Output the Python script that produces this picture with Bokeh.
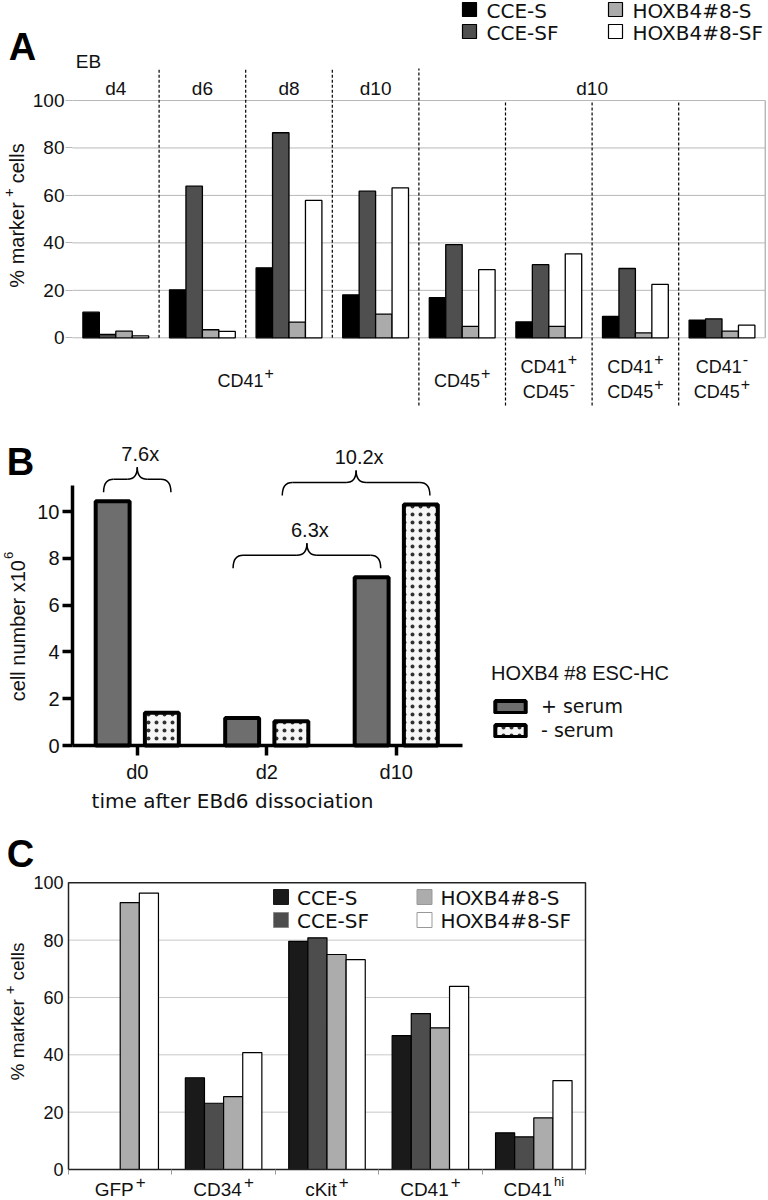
import numpy as np
from math import pi
from bokeh.plotting import figure
from bokeh.models import Range1d, FixedTicker, Label, Legend, LegendItem
from bokeh.layouts import column
from bokeh.embed import file_html
from bokeh.resources import INLINE

# ---------------- data ----------------
series = ["CCE-S", "CCE-SF", "HOXB4#8-S", "HOXB4#8-SF"]

# Panel A
a_headers = ["d4", "d6", "d8", "d10"]
a_header_d10 = "d10"
a_eb = "EB"
a_sub_single = [("CD41", "+"), ("CD45", "+")]
a_sub_top = [("CD41", "+"), ("CD41", "+"), ("CD41", "-")]
a_sub_bottom = [("CD45", "-"), ("CD45", "+"), ("CD45", "+")]
a_cce_s = [10.8, 20.2, 29.5, 18.1, 16.9, 6.7, 9.0, 7.4]
a_cce_sf = [1.4, 63.9, 86.4, 61.8, 39.3, 30.8, 29.2, 8.0]
a_hox_s = [2.8, 3.4, 6.6, 10.0, 4.8, 4.8, 2.1, 2.8]
a_hox_sf = [0.8, 2.7, 57.9, 63.2, 28.7, 35.4, 22.5, 5.3]
a_ticks = [0, 20, 40, 60, 80, 100]

# Panel B
b_days = ["d0", "d2", "d10"]
b_series = ["+ serum", "- serum"]
b_title = "HOXB4 #8 ESC-HC"
b_plus = [10.44, 1.17, 7.19]
b_minus = [1.40, 1.04, 10.30]
b_ticks = [0, 2, 4, 6, 8, 10]
b_folds = ["7.6x", "6.3x", "10.2x"]
b_fold_pairs = [((0, 0), (0, 1)), ((1, 0), (2, 0)), ((1, 1), (2, 1))]

# Panel C
c_markers = [("GFP", "+"), ("CD34", "+"), ("cKit", "+"), ("CD41", "+"), ("CD41", "hi")]
c_cce_s = [0, 32.0, 79.6, 46.7, 12.8]
c_cce_sf = [0, 23.1, 80.8, 54.4, 11.4]
c_hox_s = [93.1, 25.4, 75.0, 49.4, 18.0]
c_hox_sf = [96.4, 40.8, 73.2, 63.9, 31.0]
c_ticks = [0, 20, 40, 60, 80, 100]

# ---------------- helpers ----------------
FONT = "Liberation Sans"
WIDE = "DejaVu Sans"
INK = "#111111"
W = {' ': 278, '+': 584, '-': 333, '.': 278, '#': 556, '%': 889, 'A': 667, 'B': 667, 'C': 722,
     'D': 722, 'E': 667, 'F': 611, 'G': 778, 'H': 722, 'K': 667, 'O': 778, 'P': 667, 'S': 667,
     'X': 667, 'a': 556, 'b': 556, 'c': 500, 'd': 556, 'e': 556, 'f': 278, 'h': 556, 'i': 222,
     'k': 500, 'l': 222, 'm': 833, 'n': 556, 'o': 556, 'r': 333, 's': 500, 't': 278, 'u': 556,
     'x': 500}


def tw(s, size):
    return sum(W.get(ch, 556) for ch in s) * size / 1000.0


class Map:
    """linear page-pixel <-> data mapping of one panel (page y grows downwards)"""
    def __init__(self, x0, sx, y0, sy):
        self.x0, self.sx, self.y0, self.sy = x0, sx, y0, sy

    def px(self, x):
        return self.x0 + x * self.sx

    def py(self, y):
        return self.y0 - y * self.sy

    def ix(self, px):
        return (px - self.x0) / self.sx

    def iy(self, py):
        return (self.y0 - py) / self.sy


def lab(p, m, px, py, text, size, font=FONT, align="center", baseline="middle",
        angle=0.0, style="normal", color=INK):
    p.add_layout(Label(x=m.ix(px), y=m.iy(py), text=text, text_font=font,
                       text_font_size=f"{size}px", text_font_style=style, text_color=color,
                       text_align=align, text_baseline=baseline, angle=angle))


def sup_lab(p, m, cx, cy, base, sup, size=18, ssize=16, rise=8, gap=1):
    wb, ws = tw(base, size), tw(sup, ssize)
    left = cx - (wb + gap + ws) / 2
    lab(p, m, left, cy, base, size, align="left")
    lab(p, m, left + wb + gap, cy - rise, sup, ssize, align="left")


def vlab(p, m, cx, cy, parts, size=20, ssize=15, rise=8, gap=5):
    widths = [tw(t, ssize if s else size) for t, s in parts]
    total = sum(widths) + gap * (len(parts) - 1)
    y = cy + total / 2
    for (t, s), w in zip(parts, widths):
        lab(p, m, cx - (rise if s else 0), y, t, ssize if s else size, align="left", angle=pi / 2)
        y -= w + gap


def make_fig(m, top, bottom):
    p = figure(width=768, height=bottom - top, output_backend="svg", toolbar_location=None,
               x_range=Range1d(m.ix(0), m.ix(768)), y_range=Range1d(m.iy(bottom), m.iy(top)),
               min_border_left=0, min_border_right=0, min_border_top=0, min_border_bottom=0,
               outline_line_color=None, background_fill_color="white", border_fill_color="white")
    p.grid.visible = False
    return p


def style_axis(ax, size, color=INK):
    ax.major_label_text_font = FONT
    ax.major_label_text_font_size = f"{size}px"
    ax.major_label_text_color = color
    ax.minor_tick_line_color = None


# ================= Panel A =================
mA = Map(72, 86.6, 337.3, 2.373)
pA = make_fig(mA, 0, 406)
ng = len(a_cce_s)

pA.segment(x0=[0] * len(a_ticks), y0=a_ticks, x1=[ng] * len(a_ticks), y1=a_ticks,
           line_color="#b8b8b8", line_width=1)
pA.segment(x0=[ng], y0=[0], x1=[ng], y1=[max(a_ticks)], line_color="#b8b8b8", line_width=1.5)

ya = pA.yaxis[0]
ya.fixed_location = 0
ya.ticker = FixedTicker(ticks=a_ticks)
ya.axis_line_color = None
ya.major_tick_line_color = "#b8b8b8"
ya.major_tick_out = 7
ya.major_tick_in = 0
ya.major_label_standoff = 1
style_axis(ya, 19)
pA.xaxis.visible = False

colsA = ["#000000", "#4f4f4f", "#ababab", "#ffffff"]
bw = 0.19
offs = [-1.5, -0.5, 0.5, 1.5]
for k, (vals, col) in enumerate(zip([a_cce_s, a_cce_sf, a_hox_s, a_hox_sf], colsA)):
    xs = [i + 0.5 + offs[k] * bw for i in range(ng)]
    pA.vbar(x=xs, top=vals, bottom=0, width=bw, fill_color=col, line_color="#000000", line_width=1.3)

top_sep = mA.iy(68)
bot_sep = mA.iy(405)
pA.segment(x0=[1, 2, 3], y0=[0, 0, 0], x1=[1, 2, 3], y1=[top_sep] * 3,
           line_color="#000000", line_width=1.2, line_dash="3 2")
pA.segment(x0=[4], y0=[bot_sep], x1=[4], y1=[top_sep],
           line_color="#000000", line_width=1.2, line_dash="3 2")
pA.segment(x0=[5, 6, 7], y0=[bot_sep] * 3, x1=[5, 6, 7], y1=[max(a_ticks)] * 3,
           line_color="#000000", line_width=1.2, line_dash="3 2")

for i, h in enumerate(a_headers):
    lab(pA, mA, mA.px(i + 0.5), 88, h, 19)
lab(pA, mA, mA.px(6.0), 88, a_header_d10, 19)
lab(pA, mA, 88, 61, a_eb, 19)
lab(pA, mA, 22, 46, "A", 38, style="bold", color="#000000")

sup_lab(pA, mA, mA.px(2.0), 380, *a_sub_single[0])
sup_lab(pA, mA, mA.px(4.5), 380, *a_sub_single[1])
for j in range(3):
    sup_lab(pA, mA, mA.px(5.5 + j), 366, *a_sub_top[j])
    sup_lab(pA, mA, mA.px(5.5 + j), 391, *a_sub_bottom[j])

vlab(pA, mA, 16, 215, [("% marker", False), ("+", True), ("cells", False)])

leg_pos = [(469, 9), (469, 31), (615, 9), (615, 31)]
for (sx, sy), col, name in zip(leg_pos, colsA, series):
    pA.scatter(x=[mA.ix(sx)], y=[mA.iy(sy)], marker="square", size=14,
               fill_color=col, line_color="#000000", line_width=1.2)
    lab(pA, mA, sx + 17, sy + 1, name, 20, font=WIDE, align="left")

# ================= Panel B =================
mB = Map(72 + 0.5 * 129.5, 129.5, 745, 23.4)
pB = make_fig(mB, 406, 815)

xb = pB.xaxis[0]
xb.fixed_location = 0
xb.ticker = FixedTicker(ticks=list(range(len(b_days))))
xb.major_label_overrides = {i: d for i, d in enumerate(b_days)}
xb.bounds = (-0.5, mB.ix(462))
yb = pB.yaxis[0]
yb.fixed_location = -0.5
yb.ticker = FixedTicker(ticks=b_ticks)
yb.bounds = (0, mB.iy(485))
for ax in (xb, yb):
    ax.axis_line_width = 3.5
    ax.axis_line_color = "#000000"
    ax.major_tick_line_width = 3.5
    ax.major_tick_line_color = "#000000"
    ax.major_tick_out = 10
    ax.major_tick_in = 0
    style_axis(ax, 20)
xb.major_label_standoff = 5
yb.major_label_standoff = 3

bo = 0.19
bwb = 0.262
xs_p = [i - bo for i in range(len(b_days))]
xs_m = [i + bo for i in range(len(b_days))]
r_plus = pB.vbar(x=xs_p, top=b_plus, bottom=0, width=bwb, fill_color="#6e6e6e",
                 line_color="#000000", line_width=4)
r_minus = pB.vbar(x=xs_m, top=b_minus, bottom=0, width=bwb, fill_color="#f6f6f6",
                  line_color="#000000", line_width=4, hatch_pattern="dot",
                  hatch_color="#333333", hatch_scale=8, hatch_weight=0.8)

bx = [xs_p, xs_m]
bv = [b_plus, b_minus]
dy = lambda v: v / mB.sy
dx = lambda v: v / mB.sx
for txt, ((d1, s1), (d2, s2)) in zip(b_folds, b_fold_pairs):
    xl = bx[s1][d1] - 0.07
    xr = bx[s2][d2] + 0.07
    inside = [bv[s][d] for s in range(2) for d in range(len(b_days)) if xl <= bx[s][d] <= xr]
    yh = max(inside) + dy(22)
    xc = (xl + xr) / 2
    r = dx(10)
    pB.quadratic(x0=[xl, xc - r, xc, xr - r], y0=[yh - dy(13), yh, yh + dy(12), yh],
                 x1=[xl + r, xc, xc + r, xr], y1=[yh, yh + dy(12), yh, yh - dy(13)],
                 cx=[xl, xc, xc, xr], cy=[yh, yh, yh, yh],
                 line_color="#000000", line_width=1.5)
    pB.segment(x0=[xl + r, xc + r], y0=[yh, yh], x1=[xc - r, xr - r], y1=[yh, yh],
               line_color="#000000", line_width=1.5)
    lab(pB, mB, mB.px(xc) + 3, mB.py(yh) - 25, txt, 20)

legB = Legend(items=[LegendItem(label=b_series[0], renderers=[r_plus]),
                     LegendItem(label=b_series[1], renderers=[r_minus])],
              title=b_title, location=(491, 74), orientation="vertical",
              glyph_width=38, glyph_height=15, label_standoff=12, spacing=2,
              padding=0, margin=0, border_line_color=None, background_fill_alpha=0,
              label_text_font=WIDE, label_text_font_size="19px", label_text_color=INK,
              title_text_font=FONT, title_text_font_size="20px", title_text_font_style="normal",
              title_text_color=INK, title_standoff=10)
pB.add_layout(legB)

lab(pB, mB, 20, 461, "B", 38, style="bold", color="#000000")
lab(pB, mB, 232, 800, "time after EBd6 dissociation", 20, font=WIDE)
vlab(pB, mB, 17, 626, [("cell number x10", False), ("6", True)], size=20, ssize=13, rise=9, gap=1)

# ================= Panel C =================
mC = Map(68, 103.4, 1169, 2.867)
pC = make_fig(mC, 815, 1200)
nc = len(c_markers)

pC.segment(x0=[0] * 4, y0=c_ticks[1:-1], x1=[nc] * 4, y1=c_ticks[1:-1],
           line_color="#c8c8c8", line_width=1)

yc = pC.yaxis[0]
yc.fixed_location = 0
yc.ticker = FixedTicker(ticks=c_ticks)
yc.axis_line_color = None
yc.major_tick_line_color = None
yc.major_tick_out = 0
yc.major_tick_in = 0
yc.major_label_standoff = 5
style_axis(yc, 18)
xc_ = pC.xaxis[0]
xc_.fixed_location = 0
xc_.ticker = FixedTicker(ticks=list(range(nc + 1)))
xc_.major_label_overrides = {i: "" for i in range(nc + 1)}
xc_.bounds = (0, nc)
xc_.axis_line_color = None
xc_.major_tick_out = 5
xc_.major_tick_in = 0
xc_.major_tick_line_color = "#999999"
style_axis(xc_, 1)

colsC = ["#1a1a1a", "#4d4d4d", "#acacac", "#ffffff"]
bwc = 0.185
for k, (vals, col) in enumerate(zip([c_cce_s, c_cce_sf, c_hox_s, c_hox_sf], colsC)):
    xs = [i + 0.5 + offs[k] * bwc for i in range(nc)]
    pC.vbar(x=xs, top=vals, bottom=0, width=bwc, fill_color=col, line_color="#000000", line_width=1.2)

pC.quad(left=[0], right=[nc], bottom=[0], top=[max(c_ticks)], fill_color=None,
        line_color="#222222", line_width=1.5)

for i, (base, sup) in enumerate(c_markers):
    sup_lab(pC, mC, mC.px(i + 0.5), 1189, base, sup, size=19,
            ssize=17 if sup == "+" else 13, rise=8, gap=2)

lab(pC, mC, 20, 853, "C", 38, style="bold", color="#000000")
vlab(pC, mC, 17, 1011, [("% marker", False), ("+", True), ("cells", False)], size=19, ssize=15)

legc_pos = [(280.5, 896.5), (280.5, 919.5), (424, 896.5), (424, 919.5)]
legc_line = ["#1a1a1a", "#888888", "#999999", "#999999"]
for (sx, sy), col, lc, name in zip(legc_pos, colsC, legc_line, series):
    pC.scatter(x=[mC.ix(sx)], y=[mC.iy(sy)], marker="square", size=15,
               fill_color=col, line_color=lc, line_width=1)
    lab(pC, mC, sx + 16, sy + 1, name, 20, font=WIDE, align="left")

layout = column(pA, pB, pC)
open("out.html", "w").write(file_html(layout, INLINE))
